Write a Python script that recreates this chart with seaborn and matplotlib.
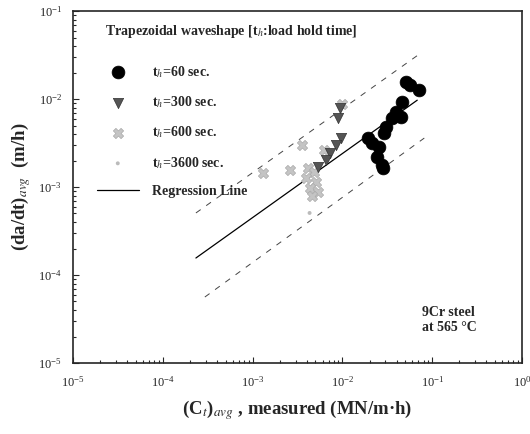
import numpy as np
import pandas as pd
import seaborn as sns
import matplotlib.pyplot as plt
from matplotlib.ticker import LogLocator, LogFormatterMathtext, NullFormatter

# t_h = 60 sec
ct_60 = [0.0514, 0.0560, 0.0718, 0.0464, 0.0398, 0.0360, 0.0453, 0.0308, 0.0293,
         0.0190, 0.0215, 0.0258, 0.0245, 0.0278, 0.0285]
da_60 = [0.0156, 0.0145, 0.01265, 0.00925, 0.0071, 0.00608, 0.00624, 0.00481, 0.00411,
         0.0036, 0.00316, 0.00285, 0.00219, 0.00178, 0.00164]
# t_h = 300 sec
ct_300 = [0.00927, 0.0088, 0.00975, 0.00836, 0.00718, 0.00648, 0.00528]
da_300 = [0.0079, 0.00608, 0.0036, 0.0030, 0.00243, 0.00203, 0.00169]
# t_h = 600 sec
ct_600 = [0.0100, 0.0035, 0.00258, 0.00129, 0.0063, 0.00408, 0.00477, 0.00388,
          0.00501, 0.0043, 0.00528, 0.00453]
da_600 = [0.00877, 0.0030, 0.00156, 0.00144, 0.00263, 0.00164, 0.00148, 0.00127,
          0.00114, 0.000975, 0.000877, 0.00079]
# t_h = 3600 sec
ct_3600 = [0.0043]
da_3600 = [0.000507]

# regression line and scatter band
reg_x = [2.33e-4, 0.068]
reg_y = [1.56e-4, 9.7e-3]
upper_x = [2.33e-4, 0.0774]
upper_y = [5.07e-4, 0.0342]
lower_x = [2.93e-4, 0.0815]
lower_y = [5.62e-5, 0.0036]

sns.set_style("ticks")
plt.rcParams['font.family'] = ['Liberation Serif', 'DejaVu Serif']
plt.rcParams['mathtext.fontset'] = 'stix'

fig = plt.figure(figsize=(5.3, 4.34), dpi=100)
ax = fig.add_axes([0.138, 0.1636, 0.847, 0.811])

sns.scatterplot(x=ct_60, y=da_60, ax=ax, marker='o', color='black', s=85,
                edgecolor='black', linewidth=0.5, label='t$_h$=60 sec.', zorder=4)
sns.scatterplot(x=ct_300, y=da_300, ax=ax, marker='v', color='#555555', s=55,
                edgecolor='#333333', linewidth=0.5, label='t$_h$=300 sec.', zorder=3)
sns.scatterplot(x=ct_600, y=da_600, ax=ax, marker='X', color='#c4c4c4', s=55,
                edgecolor='#aaaaaa', linewidth=0.5, label='t$_h$=600 sec.', zorder=2)
sns.scatterplot(x=ct_3600, y=da_3600, ax=ax, marker='o', color='#bbbbbb', s=8,
                edgecolor='none', label='t$_h$=3600 sec.', zorder=2)
sns.lineplot(x=reg_x, y=reg_y, ax=ax, color='black', linewidth=0.9,
             label='Regression Line', zorder=1)
sns.lineplot(x=upper_x, y=upper_y, ax=ax, color='#444444', linewidth=0.7,
             linestyle=(0, (6, 7)), zorder=1)
sns.lineplot(x=lower_x, y=lower_y, ax=ax, color='#444444', linewidth=0.7,
             linestyle=(0, (6, 7)), zorder=1)

ax.set_xscale('log')
ax.set_yscale('log')
ax.set_xlim(1e-5, 1)
ax.set_ylim(1e-5, 1e-1)

ax.xaxis.set_major_locator(LogLocator(base=10, numticks=10))
ax.yaxis.set_major_locator(LogLocator(base=10, numticks=10))
ax.xaxis.set_major_formatter(LogFormatterMathtext())
ax.yaxis.set_major_formatter(LogFormatterMathtext())
ax.xaxis.set_minor_formatter(NullFormatter())
ax.yaxis.set_minor_formatter(NullFormatter())
ax.tick_params(which='both', direction='in', labelsize=9, width=0.8)
ax.tick_params(which='major', length=4)
ax.tick_params(which='minor', length=2)
ax.tick_params(axis='x', pad=9)
ax.tick_params(axis='y', pad=8)
for sp in ax.spines.values():
    sp.set_linewidth(1.2)
    sp.set_visible(True)
# keep the last x label inside the picture
ax.get_xticklabels()[-1].set_horizontalalignment('right')

ax.set_xlabel('(C$_t$)$_{avg}$ , measured (MN/m·h)', fontsize=13.5, fontweight='bold', labelpad=6)
ax.set_ylabel('(da/dt)$_{avg}$  (m/h)', fontsize=13.5, fontweight='bold', labelpad=4)

ax.text(0.07, 0.943, 'Trapezoidal waveshape [t$_h$:load hold time]', transform=ax.transAxes,
        fontsize=10, fontweight='bold', va='center', ha='left')
ax.text(0.778, 0.122, '9Cr steel\nat 565 °C', transform=ax.transAxes,
        fontsize=10, fontweight='bold', va='center', ha='left', linespacing=1.2)

leg = ax.legend(loc='upper left', bbox_to_anchor=(0.053, 0.85), frameon=False,
                borderpad=0, borderaxespad=0, handlelength=3, handletextpad=1.0,
                labelspacing=1.05, prop={'size': 10, 'weight': 'bold'})

fig.savefig('out.png', dpi=100)
